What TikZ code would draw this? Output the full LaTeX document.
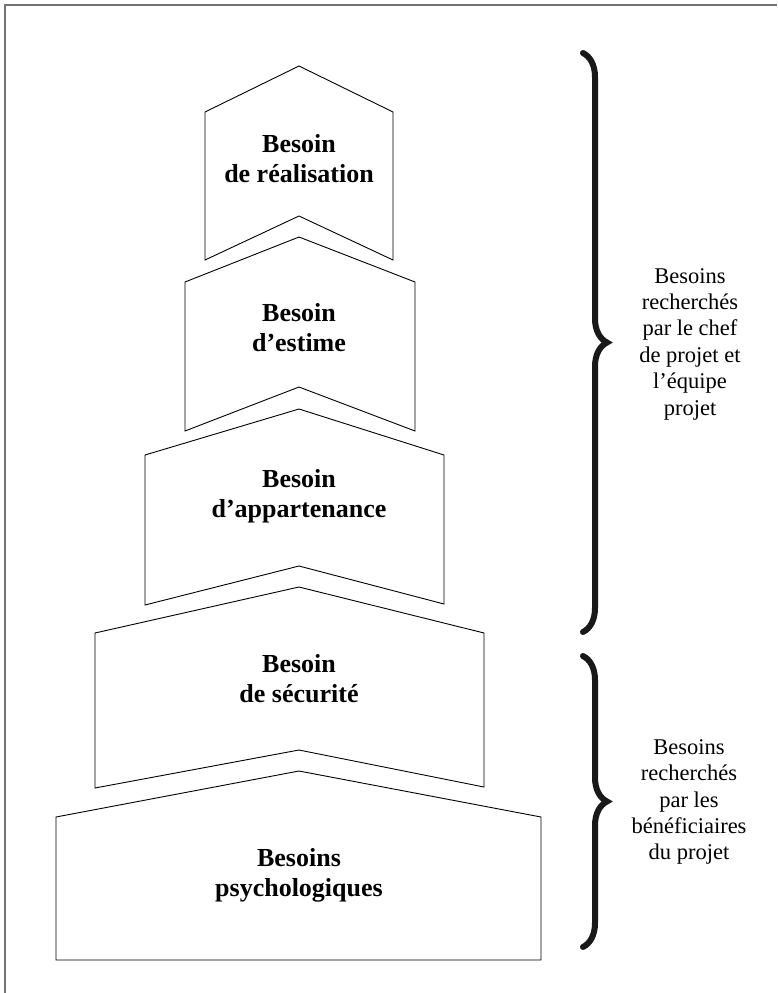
\documentclass[tikz,border=0pt]{standalone}
\usepackage{fontspec}
\setmainfont{Liberation Serif}
\usetikzlibrary{decorations.pathreplacing}
\begin{document}
\begin{tikzpicture}[x=1pt, y=-1pt, line join=miter,
    level/.style={draw=black, line width=0.9pt, fill=white},
    lvltext/.style={font=\fontsize{26}{30}\selectfont\bfseries, align=center, inner sep=0pt},
    sidetext/.style={font=\fontsize{22.5}{26.4}\selectfont, align=center, inner sep=0pt},
    bracket/.style={decorate, decoration={brace, amplitude=24pt}, draw=black!90, line width=6pt, line cap=round}]
    \useasboundingbox (0,0) rectangle (777,993);
    \draw[black!55, line width=2pt] (4.5,993) -- (4.5,4.5) -- (777,4.5);
    % pyramid levels
    \draw[level] (205,112) -- (299,66) -- (393,112) -- (393,260) -- (299,216) -- (205,260) -- cycle;
    \draw[level] (185,282) -- (299,237) -- (415,282) -- (415,431) -- (299,387) -- (185,431) -- cycle;
    \draw[level] (145,455) -- (299,409) -- (444,455) -- (444,604) -- (299,566) -- (145,605) -- cycle;
    \draw[level] (95,633) -- (299,587) -- (484,633) -- (484,787) -- (299,750) -- (95,788) -- cycle;
    \draw[level] (56,817) -- (299,771) -- (541,817) -- (541,960) -- (56,960) -- cycle;
    \node[lvltext] (realisation) at (299,159) {Besoin\\de réalisation};
    \node[lvltext] (estime) at (299,328) {Besoin\\d’estime};
    \node[lvltext] (appartenance) at (299,496) {Besoin\\d’appartenance};
    \node[lvltext] (securite) at (299,679) {Besoin\\de sécurité};
    \node[lvltext] (psycho) at (299,875) {Besoins\\psychologiques};
    % braces
    \coordinate (teamtop) at (583,53);
    \coordinate (teambot) at (583,632);
    \coordinate (benefTop) at (583,656);
    \coordinate (benefbot) at (583,947);
    \draw[bracket] (teamtop) -- (teambot);
    \draw[bracket] (benefTop) -- (benefbot);
    \node[sidetext] (team) at (690,344) {Besoins\\recherchés\\par le chef\\de projet et\\l’équipe\\projet};
    \node[sidetext] (benef) at (689,802) {Besoins\\recherchés\\par les\\bénéficiaires\\du projet};
\end{tikzpicture}
\end{document}
